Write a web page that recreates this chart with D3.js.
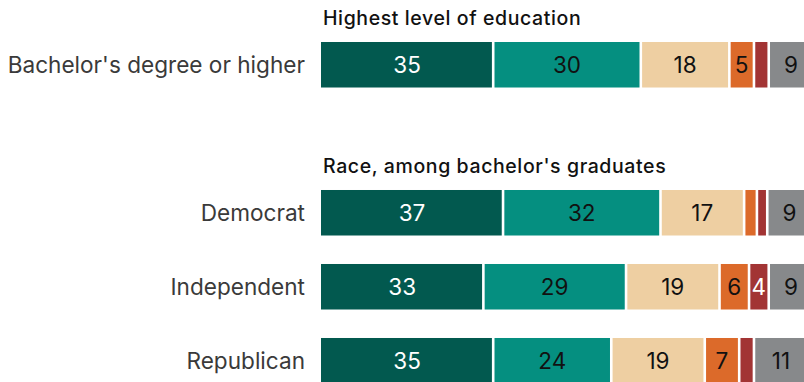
<!DOCTYPE html>
<html>
<head>
<meta charset="utf-8">
<script src="https://cdn.jsdelivr.net/npm/d3@7"></script>
<style>
  body { margin: 0; background: #fff; }
  svg { display: block; font-family: Inter, "Noto Sans", sans-serif; }
</style>
</head>
<body>
<div id="chart"></div>
<script>
// categories (rows), with an empty spacer between the two groups
const rows = ["Bachelor's degree or higher", "spacer", "Democrat", "Independent", "Republican"];
const groupTitles = [
  {row: "Bachelor's degree or higher", title: "Highest level of education"},
  {row: "Democrat", title: "Race, among bachelor's graduates"}
];
const segments = ["s1", "s2", "s3", "s4", "s5", "s6"];
const colors = ["#02594f", "#058f80", "#eecfa2", "#dc6a2a", "#a23434", "#87898b"];
const textColors = ["#fff", "#111", "#111", "#111", "#fff", "#111"];

// values
const bachelorValues = [35, 30, 18, 5, 3, 9];
const democratValues = [37, 32, 17, 2.6, 2.1, 9];
const independentValues = [33, 29, 19, 6, 4, 9];
const republicanValues = [35, 24, 19, 7, 3, 11];
// labels shown in the bars (null = no label)
const bachelorLabels = ["35", "30", "18", "5", null, "9"];
const democratLabels = ["37", "32", "17", null, null, "9"];
const independentLabels = ["33", "29", "19", "6", "4", "9"];
const republicanLabels = ["35", "24", "19", "7", null, "11"];

const W = 804, H = 382;
const gap = 2.6;

const data = [
  {row: rows[0], values: bachelorValues, labels: bachelorLabels},
  {row: rows[2], values: democratValues, labels: democratLabels},
  {row: rows[3], values: independentValues, labels: independentLabels},
  {row: rows[4], values: republicanValues, labels: republicanLabels}
];

const svg = d3.select("#chart").append("svg")
  .attr("width", W).attr("height", H);

const x = d3.scaleLinear().domain([0, 100]).range([321, 813]);
const y = d3.scaleBand().domain(rows).range([42, 383.5]).paddingInner(0.385).paddingOuter(0);

// stack the segments of every row
const stacked = data.map(d => {
  let acc = 0;
  return {
    row: d.row,
    segs: d.values.map((v, i) => {
      const s = {i: i, x0: acc, x1: acc + v, label: d.labels[i]};
      acc += v;
      return s;
    })
  };
});

const rowG = svg.selectAll("g.row")
  .data(stacked)
  .join("g")
  .attr("class", "row")
  .attr("transform", d => `translate(0,${y(d.row)})`);

rowG.selectAll("rect")
  .data(d => d.segs)
  .join("rect")
  .attr("x", s => x(s.x0) + (s.i > 0 ? gap / 2 : 0))
  .attr("width", s => Math.max(0, x(s.x1) - x(s.x0) - (s.i > 0 ? gap : gap / 2)))
  .attr("y", 0)
  .attr("height", y.bandwidth())
  .attr("fill", s => colors[s.i]);

rowG.selectAll("text.val")
  .data(d => d.segs.filter(s => s.label))
  .join("text")
  .attr("class", "val")
  .attr("x", s => (x(s.x0) + x(s.x1)) / 2)
  .attr("y", y.bandwidth() / 2)
  .attr("dy", "0.36em")
  .attr("text-anchor", "middle")
  .attr("font-size", 22.5)
  .attr("fill", s => textColors[s.i])
  .text(s => s.label);

// row labels
rowG.append("text")
  .attr("x", 305)
  .attr("y", y.bandwidth() / 2)
  .attr("dy", "0.36em")
  .attr("text-anchor", "end")
  .attr("font-size", 22.6)
  .attr("fill", "#3a3a3a")
  .text(d => d.row);

// group titles
svg.selectAll("text.title")
  .data(groupTitles)
  .join("text")
  .attr("class", "title")
  .attr("x", 323)
  .attr("y", d => y(d.row) - 17)
  .attr("font-size", 19.5)
  .attr("font-weight", 500)
  .attr("letter-spacing", 0.6)
  .attr("fill", "#111")
  .text(d => d.title);
</script>
</body>
</html>
